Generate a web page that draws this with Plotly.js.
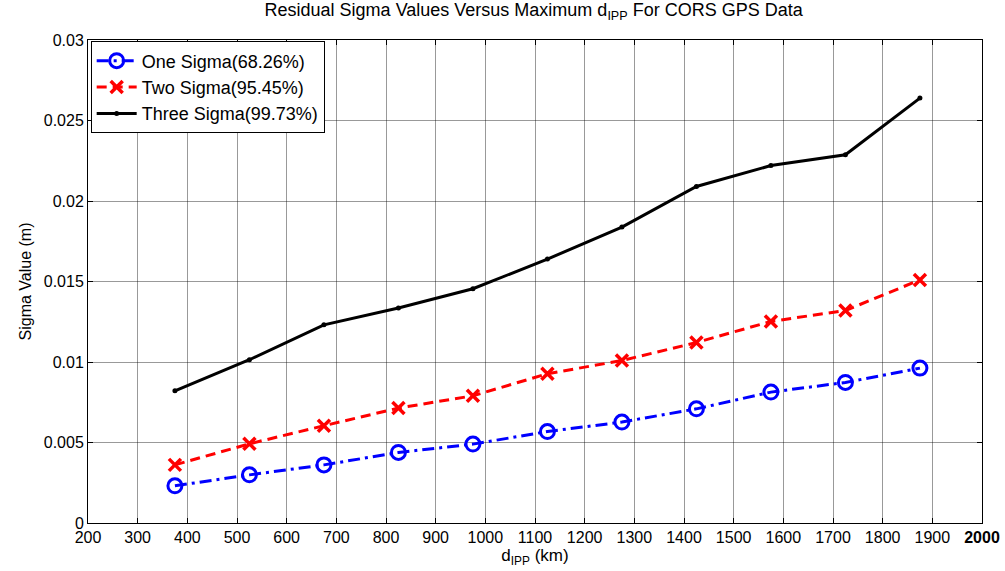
<!DOCTYPE html>
<html>
<head>
<meta charset="utf-8">
<script src="https://cdn.plot.ly/plotly-3.0.1.min.js"></script>
<style>
  html, body { margin: 0; padding: 0; background: #fff; }
  #chart { width: 1005px; height: 571px; }
</style>
</head>
<body>
<div id="chart"></div>
<script>
// Maximum IPP distance (km) for each run
const dIPP = [375, 525, 675, 825, 975, 1125, 1275, 1425, 1575, 1725, 1875];

// Residual sigma values (m)
const oneSigma   = [0.00231, 0.00299, 0.00361, 0.00438, 0.00490, 0.00568, 0.00627, 0.00709, 0.00813, 0.00873, 0.00962];
const twoSigma   = [0.00361, 0.00492, 0.00604, 0.00714, 0.00790, 0.00927, 0.01009, 0.01121, 0.01252, 0.01320, 0.01510];
const threeSigma = [0.00821, 0.01014, 0.01231, 0.01335, 0.01455, 0.01639, 0.01838, 0.02090, 0.02220, 0.02287, 0.02639];

const seriesNames = ['One Sigma(68.26%)', 'Two Sigma(95.45%)', 'Three Sigma(99.73%)'];

const xTickVals = [200, 300, 400, 500, 600, 700, 800, 900, 1000, 1100, 1200, 1300, 1400, 1500, 1600, 1700, 1800, 1900, 2000];
const xTickText = xTickVals.map(v => v === 2000 ? '<b>2000</b>' : String(v));
const yTickVals = [0, 0.005, 0.01, 0.015, 0.02, 0.025, 0.03];
const yTickText = ['0', '0.005', '0.01', '0.015', '0.02', '0.025', '0.03'];

const font = 'Arial, "Liberation Sans", Helvetica, sans-serif';

const traces = [
  {
    x: dIPP, y: oneSigma, name: seriesNames[0],
    mode: 'lines+markers',
    line: { color: '#0000ff', width: 3, dash: '12px,5px,3px,5px' },
    marker: { symbol: 'circle-open', size: 14, color: '#0000ff', line: { width: 3, color: '#0000ff' } }
  },
  {
    x: dIPP, y: twoSigma, name: seriesNames[1],
    mode: 'lines+markers',
    line: { color: '#ff0000', width: 3, dash: '10px,6px' },
    marker: { symbol: 'x-thin-open', size: 12, color: '#ff0000', line: { width: 3.5, color: '#ff0000' } }
  },
  {
    x: dIPP, y: threeSigma, name: seriesNames[2],
    mode: 'lines+markers',
    line: { color: '#000000', width: 3 },
    marker: { symbol: 'circle', size: 5, color: '#000000' }
  }
];

const axisCommon = {
  showline: true, linecolor: '#000', linewidth: 1, mirror: 'ticks',
  ticks: 'inside', ticklen: 5, tickcolor: '#000', tickwidth: 1,
  showgrid: true, gridcolor: 'rgba(0,0,0,0.4)', gridwidth: 1,
  zeroline: false,
  tickfont: { family: font, size: 16, color: '#000' }
};

const layout = {
  width: 1005, height: 571,
  margin: { l: 88, r: 23, t: 40, b: 48 },
  paper_bgcolor: '#fff', plot_bgcolor: '#fff',
  font: { family: font, color: '#000' },
  title: {
    text: 'Residual Sigma Values Versus Maximum d<sub>IPP</sub> For CORS GPS Data',
    font: { family: font, size: 18, color: '#000' },
    x: 0.531, xanchor: 'center', y: 0.994, yanchor: 'top'
  },
  xaxis: Object.assign({}, axisCommon, {
    range: [200, 2000], tickvals: xTickVals, ticktext: xTickText,
    title: { text: 'd<sub>IPP</sub> (km)', font: { family: font, size: 17, color: '#000' }, standoff: 0 }
  }),
  yaxis: Object.assign({}, axisCommon, {
    range: [0, 0.03], tickvals: yTickVals, ticktext: yTickText,
    title: { text: 'Sigma Value (m)', font: { family: font, size: 16, color: '#000' }, standoff: 8 }
  }),
  showlegend: true,
  legend: {
    x: 0.003, y: 0.997, xanchor: 'left', yanchor: 'top',
    bgcolor: '#fff', bordercolor: '#000', borderwidth: 1,
    font: { family: font, size: 18, color: '#000' },
    tracegroupgap: 0, itemwidth: 40
  }
};

Plotly.newPlot('chart', traces, layout, { staticPlot: true, displayModeBar: false });
</script>
</body>
</html>
